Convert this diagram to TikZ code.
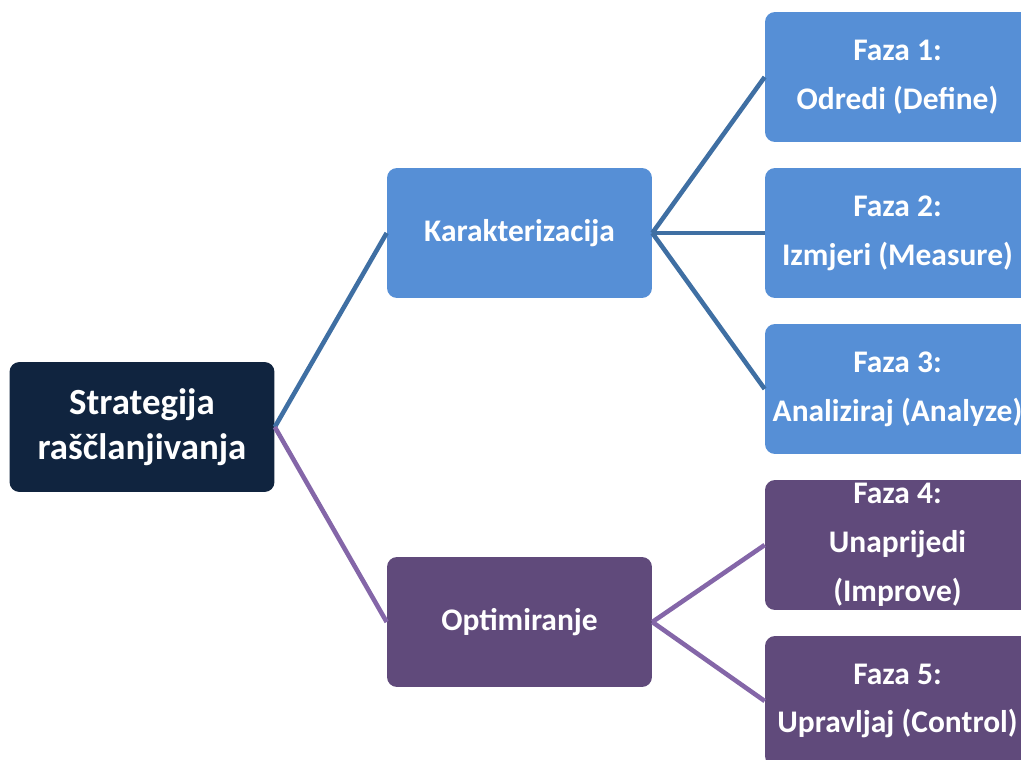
\documentclass[tikz,border=0pt]{standalone}
\usepackage{fontspec}
\setmainfont{Carlito}
\definecolor{rootnavy}{HTML}{10243F}
\definecolor{phaseblue}{HTML}{568FD6}
\definecolor{phasepurple}{HTML}{604A7B}
\definecolor{lineblue}{HTML}{3F6FA3}
\definecolor{linepurple}{HTML}{8466A8}

\begin{document}
\begin{tikzpicture}[x=0.02cm,y=-0.02cm]
        \useasboundingbox (0,0) rectangle (1021,760);
        \clip (0,0) rectangle (1021,760);

        \begin{scope}[every node/.style={rounded corners=0.2cm, text=white, align=center, inner sep=0pt, minimum width=5.3cm, minimum height=2.6cm, font=\bfseries\fontsize{17.9}{27.8}\selectfont}]
                \node [fill=rootnavy, font=\bfseries\fontsize{21}{25.6}\selectfont] (root) at (142,427) {Strategija\\raščlanjivanja};
                \node [fill=phaseblue] (kar) at (519.5,233) {Karakterizacija};
                \node [fill=phasepurple] (opt) at (519.5,622) {Optimiranje};
                \node [fill=phaseblue] (f1) at (897.5,77) {Faza 1:\\Odredi (Define)};
                \node [fill=phaseblue] (f2) at (897.5,233) {Faza 2:\\Izmjeri (Measure)};
                \node [fill=phaseblue] (f3) at (897.5,389) {Faza 3:\\Analiziraj (Analyze)};
                \node [fill=phasepurple] (f4) at (897.5,545) {Faza 4:\\Unaprijedi\\(Improve)};
                \node [fill=phasepurple] (f5) at (897.5,701) {Faza 5:\\Upravljaj (Control)};
        \end{scope}

        \begin{scope}[every path/.style={line width=2.6pt}]
                \draw [lineblue] (root.east) -- (kar.west);
                \draw [linepurple] (root.east) -- (opt.west);
                \draw [lineblue] (kar.east) -- (f1.west);
                \draw [lineblue] (kar.east) -- (f2.west);
                \draw [lineblue] (kar.east) -- (f3.west);
                \draw [linepurple] (opt.east) -- (f4.west);
                \draw [linepurple] (opt.east) -- (f5.west);
        \end{scope}
\end{tikzpicture}
\end{document}
